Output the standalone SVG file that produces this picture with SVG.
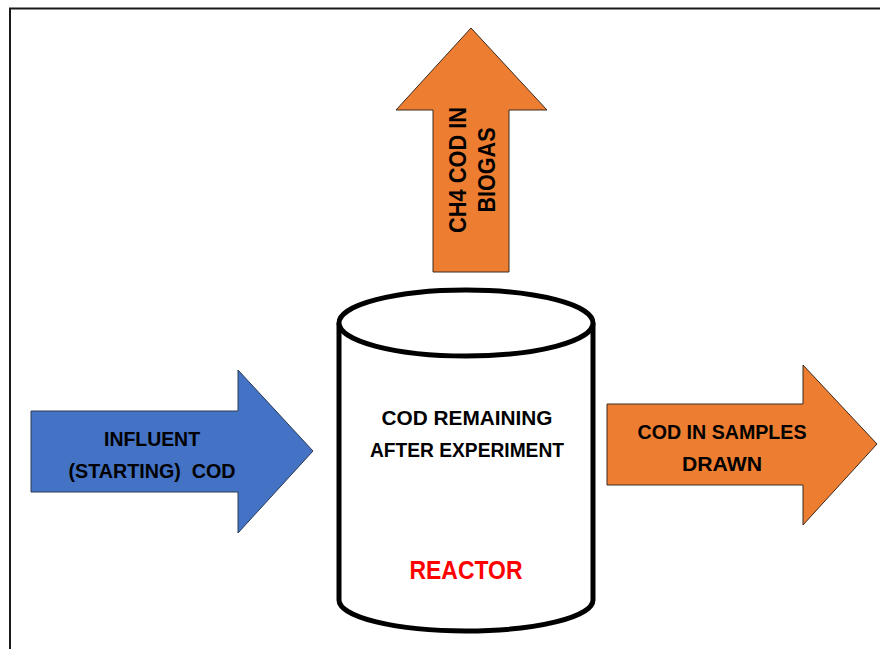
<svg xmlns="http://www.w3.org/2000/svg" width="880" height="649" viewBox="0 0 880 649">
<style>
.lbl{font-family:"Liberation Sans",Arial,sans-serif;font-weight:bold;fill:#000;text-anchor:middle;font-size:21px}
.v{font-size:23px}
.blue{fill:#4472C4;stroke:#2b3a55;stroke-width:1}
.orange{fill:#ED7D31;stroke:#3a2a20;stroke-width:1}
</style>
<rect width="880" height="649" fill="#fff"/>
<path d="M10,649 V8.5 H880" fill="none" stroke="#1a1a1a" stroke-width="2"/>
<g id="reactor">
<path d="M339,323 V600 A127,31 0 0 0 593,600 V323" fill="#fff" stroke="#000" stroke-width="5"/>
<ellipse cx="466" cy="323" rx="127" ry="33" fill="#fff" stroke="#000" stroke-width="5"/>
<text class="lbl" x="467" y="425" textLength="171" lengthAdjust="spacingAndGlyphs">COD REMAINING</text>
<text class="lbl" x="467" y="457" textLength="194" lengthAdjust="spacingAndGlyphs">AFTER EXPERIMENT</text>
<text x="466" y="579" font-family="Liberation Sans,Arial,sans-serif" font-weight="bold" font-size="26" fill="#FF0000" text-anchor="middle" textLength="113" lengthAdjust="spacingAndGlyphs">REACTOR</text>
</g>
<g id="influent">
<polygon class="blue" points="31,411 238,411 238,370 313,451 238,533 238,492 31,492"/>
<text class="lbl" x="152" y="446" textLength="96" lengthAdjust="spacingAndGlyphs">INFLUENT</text>
<text class="lbl" x="152" y="478" textLength="167" lengthAdjust="spacingAndGlyphs" xml:space="preserve">(STARTING)  COD</text>
</g>
<g id="biogas">
<polygon class="orange" points="433,272 433,110 396,110 471,28 547,110 509,110 509,272"/>
<text class="lbl v" transform="translate(466,170) rotate(-90)" textLength="126" lengthAdjust="spacingAndGlyphs">CH4 COD IN</text>
<text class="lbl v" transform="translate(495,170) rotate(-90)" textLength="85" lengthAdjust="spacingAndGlyphs">BIOGAS</text>
</g>
<g id="samples">
<polygon class="orange" points="607,404 803,404 803,365 877,444 803,525 803,485 607,485"/>
<text class="lbl" x="722" y="439" textLength="169" lengthAdjust="spacingAndGlyphs">COD IN SAMPLES</text>
<text class="lbl" x="722" y="471" textLength="80" lengthAdjust="spacingAndGlyphs">DRAWN</text>
</g>
<g id="connectors"></g>
</svg>
